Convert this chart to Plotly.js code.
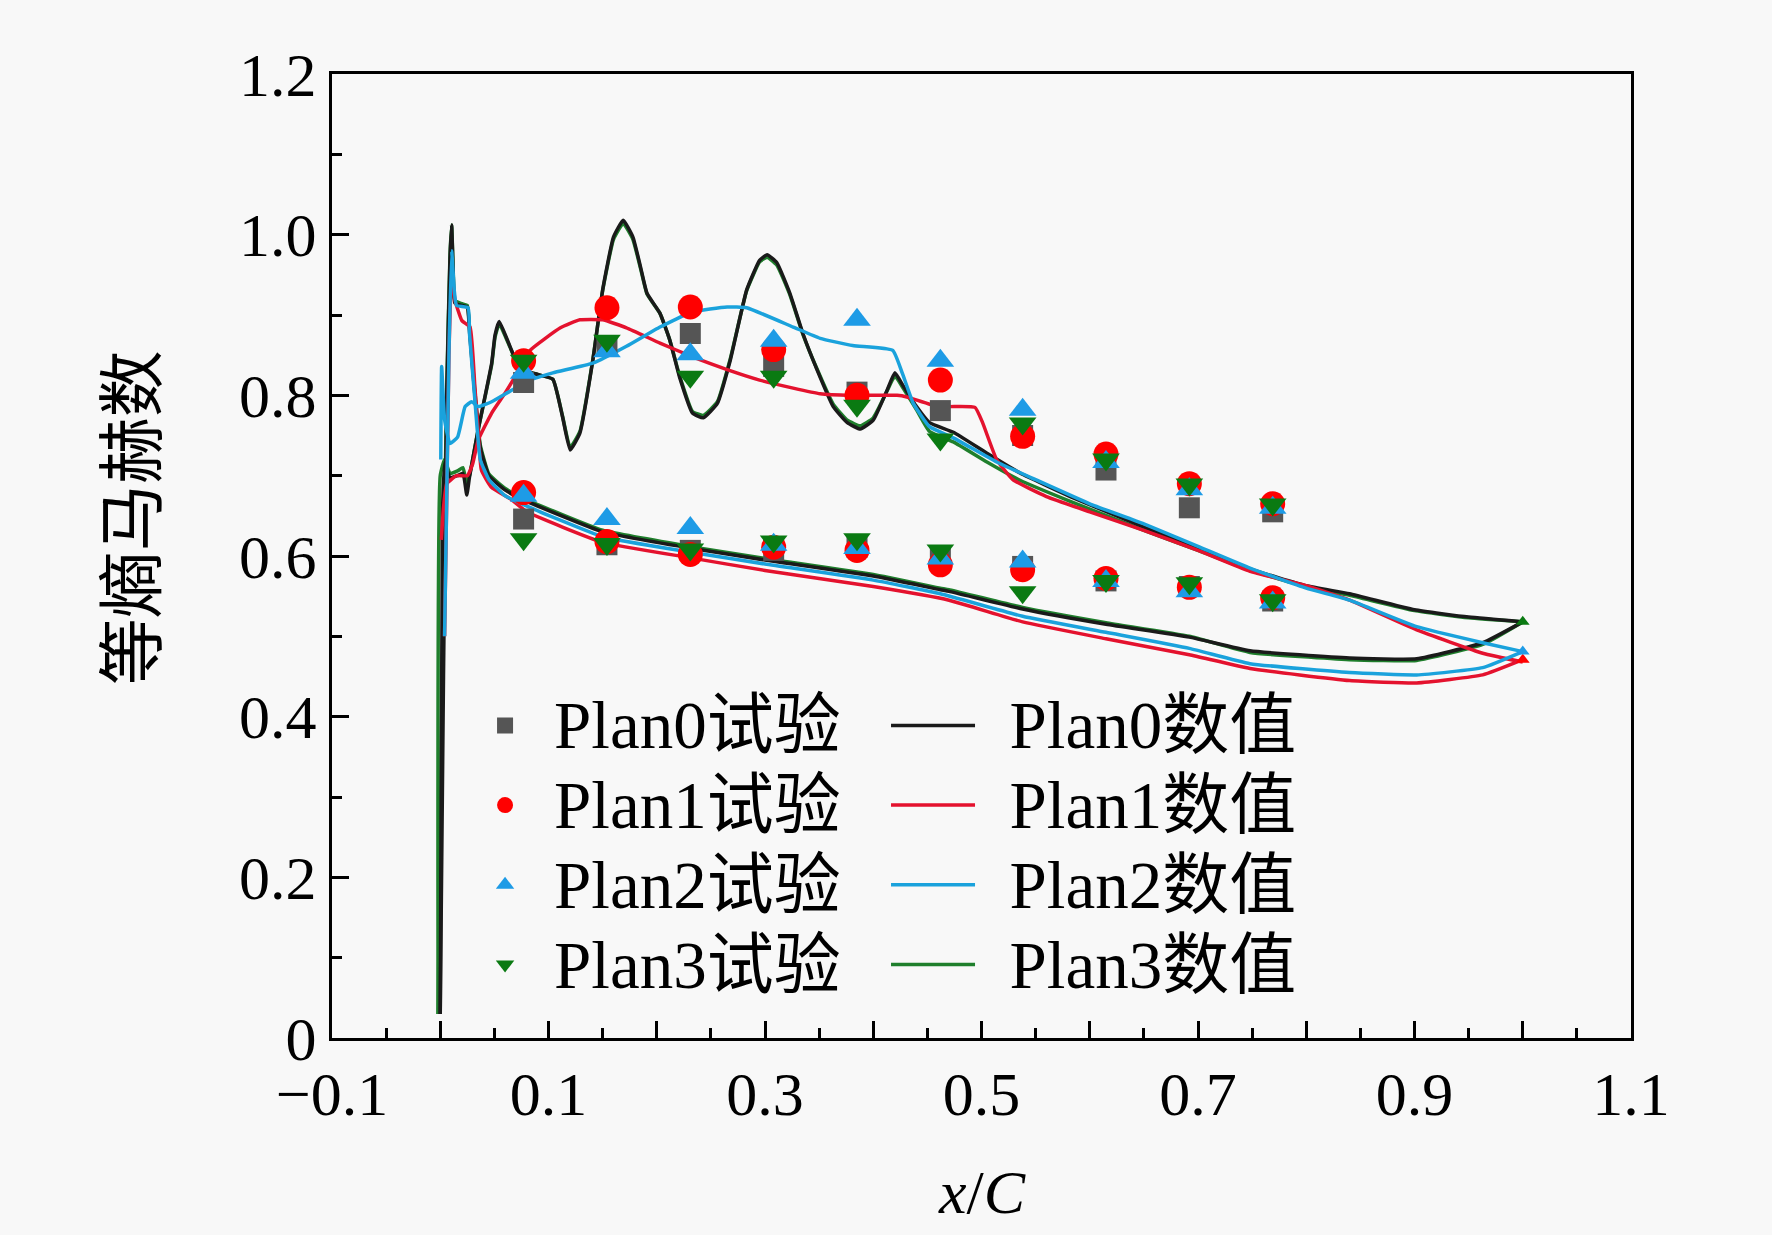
<!DOCTYPE html>
<html>
<head>
<meta charset="utf-8">
<script src="https://cdn.plot.ly/plotly-3.0.1.min.js"></script>
<style>html,body{margin:0;padding:0;background:#f8f8f8;}#chart{width:1772px;height:1235px;}</style>
</head>
<body>
<div id="chart"></div>
<script>
// ---------- experimental data (试验) ----------
const expX = [0.077, 0.154, 0.231, 0.308, 0.385, 0.462, 0.538, 0.615, 0.692, 0.769];
const plan0ExpUpper = [0.816, 0.862, 0.877, 0.836, 0.804, 0.781, 0.750, 0.707, 0.660, 0.655];
const plan0ExpLower = [0.646, 0.614, 0.607, 0.607, 0.611, 0.600, 0.587, 0.569, 0.562, 0.544];
const plan1ExpUpper = [0.843, 0.909, 0.910, 0.857, 0.800, 0.819, 0.749, 0.727, 0.690, 0.665];
const plan1ExpLower = [0.679, 0.618, 0.602, 0.611, 0.607, 0.589, 0.583, 0.572, 0.561, 0.548];
const plan2ExpUpper = [0.828, 0.855, 0.851, 0.868, 0.894, 0.843, 0.782, 0.717, 0.683, 0.660];
const plan2ExpLower = [0.675, 0.646, 0.635, 0.614, 0.610, 0.597, 0.593, 0.569, 0.556, 0.542];
const plan3ExpUpper = [0.843, 0.868, 0.823, 0.823, 0.787, 0.745, 0.765, 0.720, 0.689, 0.664];
const plan3ExpLower = [0.621, 0.615, 0.608, 0.618, 0.621, 0.607, 0.555, 0.569, 0.566, 0.545];

// ---------- numerical data (数值) ----------
const plan0NumUpperX = [0.0, 0.002, 0.004, 0.009, 0.016, 0.021, 0.0245, 0.027, 0.035, 0.0475, 0.0506, 0.0545, 0.0644, 0.074, 0.09, 0.104, 0.113, 0.120, 0.129, 0.141, 0.150, 0.160, 0.169, 0.178, 0.185, 0.191, 0.203, 0.212, 0.221, 0.233, 0.243, 0.256, 0.268, 0.283, 0.295, 0.302, 0.311, 0.323, 0.335, 0.348, 0.363, 0.376, 0.388, 0.400, 0.413, 0.420, 0.428, 0.440, 0.452, 0.474, 0.505, 0.536, 0.582, 0.65, 0.70, 0.748, 0.80, 0.84, 0.90, 0.95, 1.0];
const plan0NumUpperY = [0.03, 0.65, 0.716, 0.698, 0.700, 0.703, 0.676, 0.698, 0.757, 0.840, 0.875, 0.892, 0.861, 0.832, 0.826, 0.820, 0.773, 0.732, 0.753, 0.844, 0.931, 0.997, 1.018, 0.997, 0.960, 0.927, 0.902, 0.869, 0.823, 0.778, 0.772, 0.790, 0.844, 0.931, 0.968, 0.975, 0.965, 0.927, 0.877, 0.832, 0.786, 0.766, 0.758, 0.769, 0.807, 0.828, 0.811, 0.786, 0.766, 0.754, 0.728, 0.703, 0.674, 0.636, 0.610, 0.584, 0.563, 0.553, 0.533, 0.524, 0.518];
const plan0NumLowerX = [0.0, 0.003, 0.006, 0.009, 0.0105, 0.012, 0.0135, 0.020, 0.025, 0.027, 0.032, 0.037, 0.045, 0.060, 0.080, 0.150, 0.230, 0.300, 0.400, 0.462, 0.470, 0.538, 0.615, 0.692, 0.748, 0.840, 0.902, 0.963, 1.0];
const plan0NumLowerY = [0.03, 0.45, 0.80, 0.97, 1.012, 0.95, 0.915, 0.912, 0.910, 0.880, 0.800, 0.735, 0.700, 0.682, 0.668, 0.630, 0.610, 0.595, 0.575, 0.558, 0.556, 0.534, 0.515, 0.499, 0.482, 0.473, 0.472, 0.492, 0.518];

const plan1NumUpperX = [0.001, 0.003, 0.006, 0.015, 0.025, 0.030, 0.035, 0.0475, 0.060, 0.069, 0.083, 0.111, 0.129, 0.150, 0.172, 0.203, 0.233, 0.265, 0.295, 0.326, 0.351, 0.380, 0.422, 0.431, 0.452, 0.468, 0.494, 0.501, 0.514, 0.529, 0.560, 0.600, 0.650, 0.700, 0.748, 0.800, 0.840, 0.902, 0.963, 1.0];
const plan1NumUpperY = [0.62, 0.66, 0.69, 0.70, 0.70, 0.715, 0.744, 0.778, 0.803, 0.823, 0.856, 0.884, 0.894, 0.894, 0.884, 0.865, 0.848, 0.832, 0.819, 0.809, 0.802, 0.800, 0.800, 0.798, 0.789, 0.786, 0.785, 0.766, 0.720, 0.695, 0.674, 0.655, 0.632, 0.607, 0.581, 0.563, 0.545, 0.508, 0.479, 0.468];
const plan1NumLowerX = [0.004, 0.008, 0.0105, 0.0137, 0.020, 0.0275, 0.032, 0.035, 0.038, 0.047, 0.066, 0.080, 0.150, 0.230, 0.300, 0.400, 0.470, 0.538, 0.615, 0.692, 0.748, 0.840, 0.902, 0.963, 1.0];
const plan1NumLowerY = [0.50, 0.85, 0.95, 0.918, 0.893, 0.885, 0.810, 0.757, 0.707, 0.686, 0.670, 0.655, 0.617, 0.598, 0.582, 0.562, 0.545, 0.518, 0.497, 0.477, 0.460, 0.445, 0.442, 0.452, 0.471];

const plan2NumUpperX = [0.0005, 0.0013, 0.004, 0.009, 0.016, 0.023, 0.029, 0.035, 0.0475, 0.063, 0.083, 0.104, 0.141, 0.172, 0.203, 0.233, 0.265, 0.283, 0.326, 0.351, 0.381, 0.418, 0.427, 0.437, 0.452, 0.474, 0.514, 0.550, 0.600, 0.650, 0.700, 0.748, 0.800, 0.840, 0.902, 0.963, 1.0];
const plan2NumUpperY = [0.72, 0.836, 0.770, 0.740, 0.748, 0.786, 0.792, 0.786, 0.792, 0.804, 0.819, 0.828, 0.840, 0.861, 0.885, 0.904, 0.910, 0.909, 0.885, 0.871, 0.862, 0.856, 0.827, 0.790, 0.761, 0.747, 0.717, 0.695, 0.665, 0.640, 0.612, 0.585, 0.560, 0.545, 0.512, 0.492, 0.481];
const plan2NumLowerX = [0.004, 0.008, 0.0105, 0.013, 0.015, 0.0257, 0.027, 0.032, 0.037, 0.045, 0.060, 0.080, 0.150, 0.230, 0.300, 0.400, 0.462, 0.538, 0.615, 0.692, 0.748, 0.840, 0.902, 0.963, 1.0];
const plan2NumLowerY = [0.50, 0.85, 0.98, 0.93, 0.912, 0.909, 0.877, 0.794, 0.720, 0.695, 0.675, 0.662, 0.624, 0.605, 0.590, 0.570, 0.553, 0.525, 0.505, 0.485, 0.466, 0.455, 0.452, 0.461, 0.481];

const plan3NumUpperX = [-0.002, 0.0, 0.004, 0.009, 0.016, 0.021, 0.0245, 0.027, 0.035, 0.0475, 0.0506, 0.0545, 0.0644, 0.074, 0.09, 0.104, 0.113, 0.120, 0.129, 0.141, 0.150, 0.160, 0.169, 0.178, 0.185, 0.191, 0.203, 0.212, 0.221, 0.233, 0.243, 0.256, 0.268, 0.283, 0.295, 0.302, 0.311, 0.323, 0.335, 0.348, 0.363, 0.376, 0.388, 0.400, 0.413, 0.420, 0.428, 0.440, 0.452, 0.474, 0.505, 0.536, 0.582, 0.65, 0.70, 0.748, 0.80, 0.84, 0.90, 0.95, 1.0];
const plan3NumUpperY = [0.03, 0.70, 0.720, 0.703, 0.706, 0.710, 0.690, 0.700, 0.757, 0.838, 0.872, 0.889, 0.860, 0.832, 0.826, 0.820, 0.774, 0.735, 0.755, 0.845, 0.930, 0.994, 1.014, 0.994, 0.958, 0.926, 0.902, 0.869, 0.825, 0.780, 0.775, 0.792, 0.846, 0.930, 0.966, 0.972, 0.962, 0.925, 0.876, 0.833, 0.789, 0.769, 0.762, 0.772, 0.806, 0.824, 0.808, 0.782, 0.755, 0.742, 0.717, 0.694, 0.668, 0.632, 0.607, 0.582, 0.562, 0.551, 0.532, 0.523, 0.518];
const plan3NumLowerX = [-0.002, 0.002, 0.006, 0.009, 0.0105, 0.012, 0.0135, 0.020, 0.025, 0.027, 0.032, 0.037, 0.045, 0.060, 0.080, 0.150, 0.230, 0.300, 0.400, 0.462, 0.470, 0.538, 0.615, 0.692, 0.748, 0.840, 0.902, 0.963, 1.0];
const plan3NumLowerY = [0.03, 0.47, 0.81, 0.975, 1.012, 0.955, 0.918, 0.914, 0.912, 0.885, 0.805, 0.738, 0.702, 0.684, 0.670, 0.632, 0.612, 0.597, 0.577, 0.560, 0.558, 0.536, 0.517, 0.500, 0.480, 0.471, 0.470, 0.490, 0.518];

// ---------- names & ticks ----------
const expNames = ['Plan0试验', 'Plan1试验', 'Plan2试验', 'Plan3试验'];
const numNames = ['Plan0数值', 'Plan1数值', 'Plan2数值', 'Plan3数值'];
const xTickVals = [-0.1, 0.0, 0.1, 0.2, 0.3, 0.4, 0.5, 0.6, 0.7, 0.8, 0.9, 1.0, 1.1];
const xTickText = ['\u22120.1', '', '0.1', '', '0.3', '', '0.5', '', '0.7', '', '0.9', '', '1.1'];
const yTickVals = [0, 0.2, 0.4, 0.6, 0.8, 1.0, 1.2];
const yTickText = ['0', '0.2', '0.4', '0.6', '0.8', '1.0', '1.2'];
const xTitle = '<i>x</i>/<i>C</i>';
const yTitle = '等熵马赫数';

// ---------- styles ----------
const SERIF = 'Liberation Serif, Times New Roman, serif';
const LEGFONT = 'Liberation Serif, Noto Sans CJK SC, serif';
const expStyle = [
  {symbol: 'square', size: 21, color: '#555555'},
  {symbol: 'circle', size: 25, color: '#ff0000'},
  {symbol: 'triangle-up', size: 24, color: '#1e9be6'},
  {symbol: 'triangle-down', size: 24, color: '#0a7a12'}
];
const numColors = ['#1a1a1a', '#e4122e', '#1aa2dc', '#1f7f2c'];
const bigText = s => '<span style="font-size:67px">' + s + '</span>';

const numData = [
  [plan0NumUpperX, plan0NumUpperY, plan0NumLowerX, plan0NumLowerY],
  [plan1NumUpperX, plan1NumUpperY, plan1NumLowerX, plan1NumLowerY],
  [plan2NumUpperX, plan2NumUpperY, plan2NumLowerX, plan2NumLowerY],
  [plan3NumUpperX, plan3NumUpperY, plan3NumLowerX, plan3NumLowerY]
];
const expData = [
  [plan0ExpUpper, plan0ExpLower],
  [plan1ExpUpper, plan1ExpLower],
  [plan2ExpUpper, plan2ExpLower],
  [plan3ExpUpper, plan3ExpLower]
];

const traces = [];
// line draw order: Plan3 (under), Plan0, Plan1, Plan2
[3, 0, 1, 2].forEach(function (i) {
  const d = numData[i];
  const ln = {color: numColors[i], width: 3.5, shape: 'spline', smoothing: 0.4};
  traces.push({x: d[0], y: d[1], mode: 'lines', line: ln, name: '\u00a0\u00a0' + bigText(numNames[i]),
    legend: 'legend2', legendrank: i + 1, legendgroup: 'n' + i, hoverinfo: 'skip'});
  traces.push({x: d[2], y: d[3], mode: 'lines', line: ln, name: numNames[i],
    legend: 'legend2', legendgroup: 'n' + i, showlegend: false, hoverinfo: 'skip'});
});
// small end markers at the trailing edge
const endIdx = [1, 2, 3];
traces.push({
  x: endIdx.map(i => numData[i][2][numData[i][2].length - 1]),
  y: endIdx.map(i => numData[i][3][numData[i][3].length - 1]),
  mode: 'markers', showlegend: false, hoverinfo: 'skip',
  marker: {symbol: 'triangle-up', size: 12, color: endIdx.map(i => expStyle[i].color)}
});
// experimental markers
expData.forEach(function (d, i) {
  traces.push({
    x: expX.concat(expX), y: d[0].concat(d[1]), mode: 'markers', name: bigText(expNames[i]),
    legend: 'legend', legendrank: i + 1, hoverinfo: 'skip',
    marker: {symbol: expStyle[i].symbol, size: expStyle[i].size, color: expStyle[i].color, line: {width: 0}}
  });
});

const axisCommon = {
  showgrid: false, zeroline: false, showline: true, linecolor: '#000', linewidth: 3,
  mirror: true, ticks: 'inside', tickcolor: '#000', tickwidth: 3, ticklen: 17,
  tickmode: 'array', tickfont: {family: SERIF, size: 62, color: '#000'}
};

const layout = {
  width: 1772, height: 1235,
  margin: {l: 332, r: 141, t: 74, b: 197},
  paper_bgcolor: '#f8f8f8', plot_bgcolor: '#f8f8f8',
  showlegend: true,
  xaxis: Object.assign({}, axisCommon, {
    range: [-0.1, 1.1], tickvals: xTickVals, ticktext: xTickText,
    minor: {tickmode: 'linear', tick0: -0.1, dtick: 0.05, ticks: 'inside', ticklen: 10, tickwidth: 3, tickcolor: '#000'}
  }),
  yaxis: Object.assign({}, axisCommon, {
    range: [0, 1.2], tickvals: yTickVals, ticktext: yTickText,
    minor: {tickmode: 'linear', tick0: 0, dtick: 0.1, ticks: 'inside', ticklen: 10, tickwidth: 3, tickcolor: '#000'}
  }),
  legend: {
    x: 0.0955, y: 0.3708, xanchor: 'left', yanchor: 'top',
    bgcolor: 'rgba(0,0,0,0)', borderwidth: 0, itemwidth: 88, tracegroupgap: 0,
    font: {family: LEGFONT, size: 59, color: '#000'}
  },
  legend2: {
    x: 0.4265, y: 0.3708, xanchor: 'left', yanchor: 'top',
    bgcolor: 'rgba(0,0,0,0)', borderwidth: 0, itemwidth: 84, tracegroupgap: 0,
    font: {family: LEGFONT, size: 59, color: '#000'}
  },
  annotations: [
    {text: yTitle, xref: 'paper', yref: 'paper', x: -0.158, y: 0.540, xanchor: 'center', yanchor: 'middle',
     textangle: -90, showarrow: false, font: {family: 'Noto Sans CJK SC', size: 67, color: '#000'}},
    {text: xTitle, xref: 'paper', yref: 'paper', x: 0.5, y: -0.16, xanchor: 'center', yanchor: 'middle',
     showarrow: false, font: {family: SERIF, size: 62, color: '#000'}}
  ]
};

Plotly.newPlot('chart', traces, layout, {displayModeBar: false, staticPlot: true});
</script>
</body>
</html>
